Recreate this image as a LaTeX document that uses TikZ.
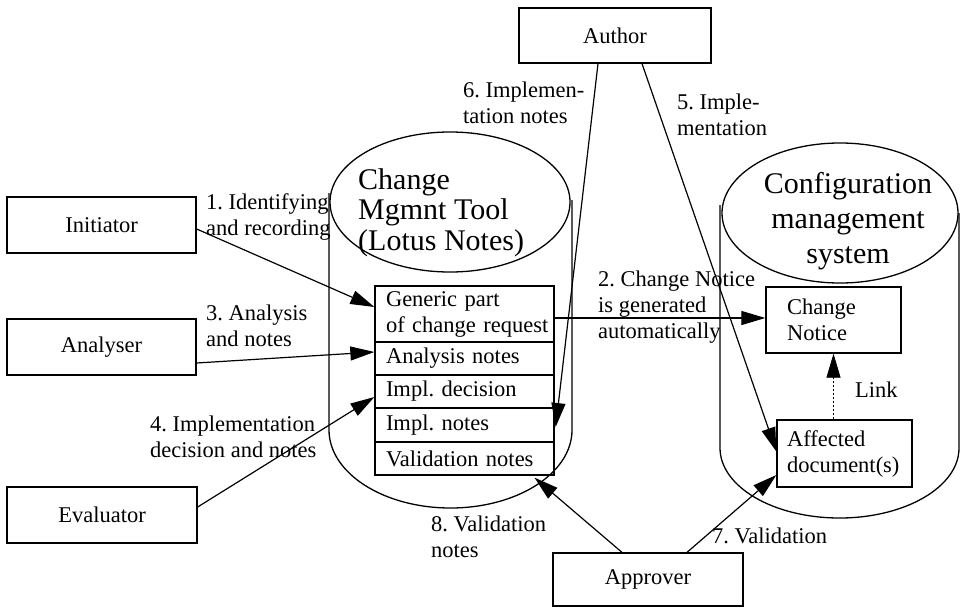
\documentclass[tikz,border=0pt]{standalone}
\usepackage{fontspec}
\setmainfont{Liberation Serif}
\usetikzlibrary{arrows.meta,calc}
\newcommand\labfont{\fontsize{22.5}{26}\selectfont\frenchspacing}
\newcommand\dbfont{\fontsize{30}{30.5}\selectfont}
\begin{document}
\begin{tikzpicture}[x=1pt,y=-1pt,
  box/.style={draw,line width=1.3pt,inner sep=0pt,font=\labfont},
  row/.style={box,anchor=center,text width=157pt,inner xsep=11pt,align=left},
  lab/.style={inner sep=0pt,anchor=base west,align=left,font=\labfont},
  arr/.style={-{Triangle[length=24pt,width=14pt]},line width=1.2pt},
  wall/.style={line width=1.3pt}]
\useasboundingbox (0,0) rectangle (960,608);

% --- Change management tool drum ---
\draw[wall] (450,202) ellipse [x radius=120pt, y radius=70pt];
\draw[wall] (329,193) -- (329,430)
  .. controls (329,473) and (383.4,508) .. (450.5,508)
  .. controls (517.6,508) and (572,473) .. (572,430) -- (572,200);
% (base anchor of a multi-line node sits on its last line)
\node[lab,font=\dbfont] (cmtname) at (358,250) {Change\\Mgmnt Tool\\(Lotus Notes)};

% --- Configuration management drum ---
\draw[wall] (840,213) ellipse [x radius=118pt, y radius=70pt];
\draw[wall] (720,205) -- (720,448)
  .. controls (720,486.7) and (773.5,518) .. (839.5,518)
  .. controls (905.5,518) and (959,486.7) .. (959,448) -- (959,213);
\node[inner sep=0pt,anchor=base,align=center,font=\fontsize{30}{35}\selectfont] (cmsname) at (848,263) {Configuration\\management\\system};

% --- actors ---
\node[box,minimum width=189pt,minimum height=56pt] (init) at (101.5,225) {Initiator};
\node[box,minimum width=189pt,minimum height=56pt] (anl) at (101.5,347) {Analyser};
\node[box,minimum width=190pt,minimum height=56pt] (eval) at (102,515) {Evaluator};
\node[box,minimum width=192pt,minimum height=55pt] (author) at (615,35.5) {Author};
\node[box,minimum width=190pt,minimum height=53pt] (appr) at (648,579.5) {Approver};

% --- change request record ---
\node[row,minimum height=56pt] (gen) at (464.5,314) {Generic part\\\mbox{of change request}};
\node[row,minimum height=33pt] (anotes) at (464.5,358.5) {Analysis notes};
\node[row,minimum height=33pt] (idec) at (464.5,391.5) {Impl. decision};
\node[row,minimum height=34pt] (inotes) at (464.5,425) {Impl. notes};
\node[row,minimum height=33pt] (vnotes) at (464.5,458.5) {Validation notes};

% --- configuration items ---
\node[box,minimum height=66pt,text width=93pt,inner xsep=21pt,align=left] (cn) at (833.5,320) {Change\\Notice};
\node[box,minimum height=67pt,text width=115pt,inner xsep=10pt,align=left] (aff) at (844.5,453.5) {Affected\\document(s)};

% --- flows ---
\draw[arr] ([yshift=-4pt]init.east) -- ([yshift=7pt]gen.west);
\draw[arr] ([yshift=-16pt]anl.east) -- ([yshift=6.5pt]anotes.west);
\draw[arr] ([yshift=8pt]eval.east) -- ([yshift=-5.5pt]idec.west);
\draw[arr] ([yshift=-4pt]gen.east) -- ([yshift=2pt]cn.west);
\draw[arr] ([xshift=27pt]author.south) -- ([yshift=2pt]aff.west);
\draw[arr] ([xshift=-17pt]author.south) -- ([xshift=1pt,yshift=-2pt]inotes.east);
\draw[arr] ([xshift=39pt]appr.north) -- ([yshift=-21.5pt]aff.west);
\draw[arr] ([xshift=-26pt]appr.north) -- ([xshift=70pt,yshift=-2pt]vnotes.south);
\draw[arr,line width=0.8pt,dash pattern=on 2pt off 2pt] (aff.north -| cn.south) -- (cn.south);

% --- flow labels ---
\node[lab] (l1) at (206,235) {1. Identifying\\and recording};
\node[lab] (l2) at (598,338) {2. Change Notice\\is generated\\automatically};
\node[lab] (l3) at (206,346) {3. Analysis\\and notes};
\node[lab] (l4) at (150,457) {4. Implementation\\decision and notes};
\node[lab] (l5) at (677,135) {5. Imple-\\mentation};
\node[lab] (l6) at (463,123) {6. Implemen-\\tation notes};
\node[lab] (l7) at (712,543) {7. Validation};
\node[lab] (l8) at (431,557) {8. Validation\\notes};
\node[lab] (llink) at (855,397) {Link};
\end{tikzpicture}
\end{document}
